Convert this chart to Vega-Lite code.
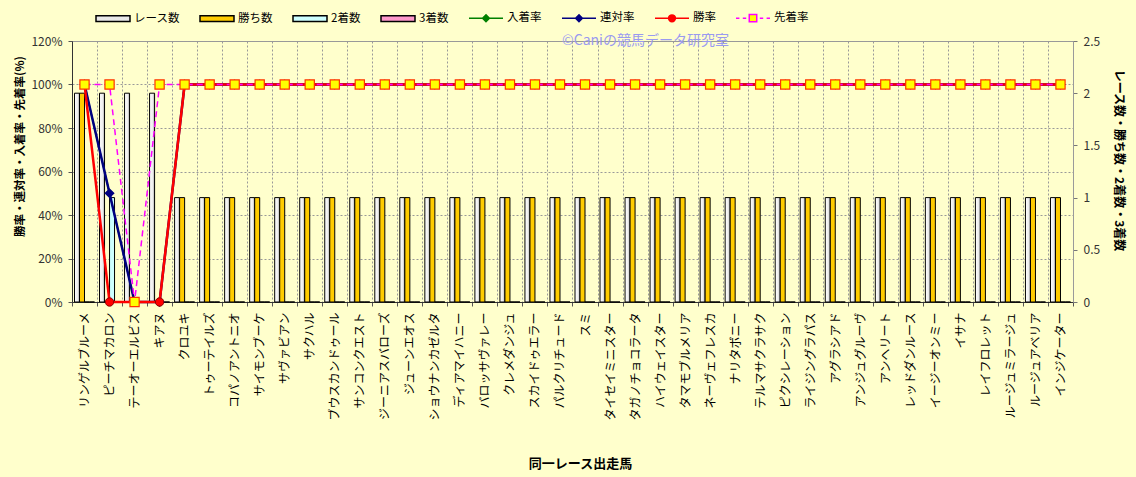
{
  "$schema": "https://vega.github.io/schema/vega-lite/v6.json",
  "width": 1001,
  "height": 261,
  "autosize": {"type": "none"},
  "padding": {"left": 72, "top": 41, "right": 63, "bottom": 175},
  "background": "#FFFFCC",
  "config": {
    "font": "Noto Sans CJK JP",
    "view": {"fill": "#DDEBF8", "stroke": "#9A9A9A", "strokeWidth": 1},
    "legend": {
      "orient": "none", "legendX": 23, "legendY": -41, "direction": "horizontal", "columns": 8,
      "padding": 0, "symbolSize": 1156, "labelFontSize": 11.5, "labelOffset": 3,
      "columnPadding": 17, "labelColor": "#000000", "labelFont": "Noto Sans CJK JP", "symbolStrokeWidth": 1.5, "symbolOpacity": 1
    }
  },
  "title": {
    "text": "©Caniの競馬データ研究室",
    "frame": "group",
    "anchor": "middle",
    "dx": 73,
    "offset": -55,
    "baseline": "middle",
    "fontSize": 14,
    "fontWeight": "normal",
    "color": "#9A9AF0",
    "font": "Noto Sans CJK JP"
  },
  "data": {
    "values": [
      {"horse": "リンゲルブルーメ", "レース数": 2, "勝ち数": 2, "2着数": 0, "3着数": 0, "入着率": 100, "連対率": 100, "勝率": 100, "先着率": 100},
      {"horse": "ピーチマカロン", "レース数": 2, "勝ち数": 0, "2着数": 1, "3着数": 0, "入着率": 50, "連対率": 50, "勝率": 0, "先着率": 100},
      {"horse": "テーオーエルビス", "レース数": 2, "勝ち数": 0, "2着数": 0, "3着数": 0, "入着率": 0, "連対率": 0, "勝率": 0, "先着率": 0},
      {"horse": "キアヌ", "レース数": 2, "勝ち数": 0, "2着数": 0, "3着数": 0, "入着率": 0, "連対率": 0, "勝率": 0, "先着率": 100},
      {"horse": "クロユキ", "レース数": 1, "勝ち数": 1, "2着数": 0, "3着数": 0, "入着率": 100, "連対率": 100, "勝率": 100, "先着率": 100},
      {"horse": "トゥーテイルズ", "レース数": 1, "勝ち数": 1, "2着数": 0, "3着数": 0, "入着率": 100, "連対率": 100, "勝率": 100, "先着率": 100},
      {"horse": "コパノアントニオ", "レース数": 1, "勝ち数": 1, "2着数": 0, "3着数": 0, "入着率": 100, "連対率": 100, "勝率": 100, "先着率": 100},
      {"horse": "サイモンブーケ", "レース数": 1, "勝ち数": 1, "2着数": 0, "3着数": 0, "入着率": 100, "連対率": 100, "勝率": 100, "先着率": 100},
      {"horse": "サヴァビアン", "レース数": 1, "勝ち数": 1, "2着数": 0, "3着数": 0, "入着率": 100, "連対率": 100, "勝率": 100, "先着率": 100},
      {"horse": "サクハル", "レース数": 1, "勝ち数": 1, "2着数": 0, "3着数": 0, "入着率": 100, "連対率": 100, "勝率": 100, "先着率": 100},
      {"horse": "ブウスカンドゥール", "レース数": 1, "勝ち数": 1, "2着数": 0, "3着数": 0, "入着率": 100, "連対率": 100, "勝率": 100, "先着率": 100},
      {"horse": "サンコンクエスト", "レース数": 1, "勝ち数": 1, "2着数": 0, "3着数": 0, "入着率": 100, "連対率": 100, "勝率": 100, "先着率": 100},
      {"horse": "ジーニアスバローズ", "レース数": 1, "勝ち数": 1, "2着数": 0, "3着数": 0, "入着率": 100, "連対率": 100, "勝率": 100, "先着率": 100},
      {"horse": "ジューンエオス", "レース数": 1, "勝ち数": 1, "2着数": 0, "3着数": 0, "入着率": 100, "連対率": 100, "勝率": 100, "先着率": 100},
      {"horse": "ショウナンカゼルタ", "レース数": 1, "勝ち数": 1, "2着数": 0, "3着数": 0, "入着率": 100, "連対率": 100, "勝率": 100, "先着率": 100},
      {"horse": "ディアマイハニー", "レース数": 1, "勝ち数": 1, "2着数": 0, "3着数": 0, "入着率": 100, "連対率": 100, "勝率": 100, "先着率": 100},
      {"horse": "バロッサヴァレー", "レース数": 1, "勝ち数": 1, "2着数": 0, "3着数": 0, "入着率": 100, "連対率": 100, "勝率": 100, "先着率": 100},
      {"horse": "クレメダンジュ", "レース数": 1, "勝ち数": 1, "2着数": 0, "3着数": 0, "入着率": 100, "連対率": 100, "勝率": 100, "先着率": 100},
      {"horse": "スカイドゥエラー", "レース数": 1, "勝ち数": 1, "2着数": 0, "3着数": 0, "入着率": 100, "連対率": 100, "勝率": 100, "先着率": 100},
      {"horse": "パルクリチュード", "レース数": 1, "勝ち数": 1, "2着数": 0, "3着数": 0, "入着率": 100, "連対率": 100, "勝率": 100, "先着率": 100},
      {"horse": "スミ", "レース数": 1, "勝ち数": 1, "2着数": 0, "3着数": 0, "入着率": 100, "連対率": 100, "勝率": 100, "先着率": 100},
      {"horse": "タイセイミニスター", "レース数": 1, "勝ち数": 1, "2着数": 0, "3着数": 0, "入着率": 100, "連対率": 100, "勝率": 100, "先着率": 100},
      {"horse": "タガノチョコラータ", "レース数": 1, "勝ち数": 1, "2着数": 0, "3着数": 0, "入着率": 100, "連対率": 100, "勝率": 100, "先着率": 100},
      {"horse": "ハイウェイスター", "レース数": 1, "勝ち数": 1, "2着数": 0, "3着数": 0, "入着率": 100, "連対率": 100, "勝率": 100, "先着率": 100},
      {"horse": "タマモブルメリア", "レース数": 1, "勝ち数": 1, "2着数": 0, "3着数": 0, "入着率": 100, "連対率": 100, "勝率": 100, "先着率": 100},
      {"horse": "ネーヴェフレスカ", "レース数": 1, "勝ち数": 1, "2着数": 0, "3着数": 0, "入着率": 100, "連対率": 100, "勝率": 100, "先着率": 100},
      {"horse": "ナリタボニー", "レース数": 1, "勝ち数": 1, "2着数": 0, "3着数": 0, "入着率": 100, "連対率": 100, "勝率": 100, "先着率": 100},
      {"horse": "テルマサクラサク", "レース数": 1, "勝ち数": 1, "2着数": 0, "3着数": 0, "入着率": 100, "連対率": 100, "勝率": 100, "先着率": 100},
      {"horse": "ピクシレーション", "レース数": 1, "勝ち数": 1, "2着数": 0, "3着数": 0, "入着率": 100, "連対率": 100, "勝率": 100, "先着率": 100},
      {"horse": "ライジングラパス", "レース数": 1, "勝ち数": 1, "2着数": 0, "3着数": 0, "入着率": 100, "連対率": 100, "勝率": 100, "先着率": 100},
      {"horse": "アグラシアド", "レース数": 1, "勝ち数": 1, "2着数": 0, "3着数": 0, "入着率": 100, "連対率": 100, "勝率": 100, "先着率": 100},
      {"horse": "アンジュグルーヴ", "レース数": 1, "勝ち数": 1, "2着数": 0, "3着数": 0, "入着率": 100, "連対率": 100, "勝率": 100, "先着率": 100},
      {"horse": "アンヘリート", "レース数": 1, "勝ち数": 1, "2着数": 0, "3着数": 0, "入着率": 100, "連対率": 100, "勝率": 100, "先着率": 100},
      {"horse": "レッドダンルース", "レース数": 1, "勝ち数": 1, "2着数": 0, "3着数": 0, "入着率": 100, "連対率": 100, "勝率": 100, "先着率": 100},
      {"horse": "イージーオンミー", "レース数": 1, "勝ち数": 1, "2着数": 0, "3着数": 0, "入着率": 100, "連対率": 100, "勝率": 100, "先着率": 100},
      {"horse": "イサナ", "レース数": 1, "勝ち数": 1, "2着数": 0, "3着数": 0, "入着率": 100, "連対率": 100, "勝率": 100, "先着率": 100},
      {"horse": "レイフロレット", "レース数": 1, "勝ち数": 1, "2着数": 0, "3着数": 0, "入着率": 100, "連対率": 100, "勝率": 100, "先着率": 100},
      {"horse": "ルージュミラージュ", "レース数": 1, "勝ち数": 1, "2着数": 0, "3着数": 0, "入着率": 100, "連対率": 100, "勝率": 100, "先着率": 100},
      {"horse": "ルージュアベリア", "レース数": 1, "勝ち数": 1, "2着数": 0, "3着数": 0, "入着率": 100, "連対率": 100, "勝率": 100, "先着率": 100},
      {"horse": "インジケーター", "レース数": 1, "勝ち数": 1, "2着数": 0, "3着数": 0, "入着率": 100, "連対率": 100, "勝率": 100, "先着率": 100}
    ]
  },
  "layer": [
    {
      "transform": [{"fold": ["レース数", "勝ち数", "2着数", "3着数"], "as": ["series", "value"]}],
      "mark": {"type": "bar", "stroke": "#000000", "strokeWidth": 1},
      "encoding": {
        "x": {
          "field": "horse", "type": "nominal", "sort": null,
          "scale": {"paddingInner": 0, "paddingOuter": 0},
          "axis": {
            "title": "同一レース出走馬", "titleFontSize": 13, "titleFontWeight": "bold", "titleColor": "#000000",
            "titleX": 508, "titleY": 161, "titleBaseline": "middle", "titleAlign": "center",
            "labelAngle": -90, "labelFontSize": 12, "labelColor": "#000000", "labelPadding": 6, "labelOverlap": false,
            "tickBand": "extent", "tickSize": 4, "tickColor": "#555555",
            "domainColor": "#333333",
            "grid": true, "gridColor": "#999999", "gridDash": [2, 2], "gridWidth": 1
          }
        },
        "xOffset": {
          "field": "series", "type": "nominal",
          "scale": {"domain": ["レース数", "勝ち数", "2着数", "3着数"], "paddingInner": 0, "paddingOuter": 0.5}
        },
        "y": {
          "field": "value", "type": "quantitative",
          "scale": {"domain": [0, 2.5], "nice": false},
          "axis": {
            "orient": "right", "values": [0, 0.5, 1, 1.5, 2, 2.5], "format": "~g",
            "title": "レース数・勝ち数・2着数・3着数", "titleAngle": 90, "titleX": 45, "titleY": 119,
            "titleAlign": "center", "titleBaseline": "middle", "titleFontSize": 12, "titleFontWeight": "bold", "titleColor": "#000000",
            "grid": false, "tickSize": 4, "tickColor": "#777777", "labelPadding": 6, "labelFontSize": 12, "labelColor": "#333333",
            "domainColor": "#9A9A9A"
          }
        },
        "color": {
          "condition": {
            "test": "datum.series === 'レース数'",
            "value": {"gradient": "linear", "x1": 0, "x2": 1, "y1": 0, "y2": 0,
              "stops": [{"offset": 0, "color": "#FFFFFF"}, {"offset": 0.6, "color": "#EEEEEE"}, {"offset": 1, "color": "#A8A8A8"}]}
          },
          "field": "series", "type": "nominal",
          "scale": {
            "domain": ["レース数", "勝ち数", "2着数", "3着数", "入着率", "連対率", "勝率", "先着率"],
            "range": ["#E8E8E8", "#FFCC00", "#CCFFFF", "#FF99CC", "#008000", "#000080", "#FF0000", "#FFFF00"]
          },
          "legend": {"title": null}
        }
      }
    },
    {
      "transform": [{"fold": ["入着率", "連対率", "勝率", "先着率"], "as": ["rseries", "rate"]}],
      "encoding": {
        "x": {"field": "horse", "type": "nominal", "sort": null},
        "y": {
          "field": "rate", "type": "quantitative",
          "scale": {"domain": [0, 120], "nice": false},
          "axis": {
            "orient": "left", "values": [0, 20, 40, 60, 80, 100, 120], "labelExpr": "datum.value + '%'",
            "title": "勝率・連対率・入着率・先着率(%)", "titleAngle": -90, "titleX": -52, "titleY": 105,
            "titleAlign": "center", "titleBaseline": "middle", "titleFontSize": 11.5, "titleFontWeight": "bold", "titleColor": "#000000",
            "labelFontSize": 12, "labelColor": "#333333", "tickSize": 4, "tickColor": "#555555", "labelPadding": 6,
            "grid": true, "gridDash": [2, 2], "gridColor": "#999999", "domainColor": "#333333"
          }
        }
      },
      "layer": [
        {
          "transform": [{"filter": "datum.rseries === '入着率'"}],
          "mark": {"type": "line", "color": "#008000", "strokeWidth": 1.5,
            "point": {"shape": "diamond", "size": 30, "filled": true, "fill": "#008000", "stroke": "#008000", "opacity": 1}}
        },
        {
          "transform": [{"filter": "datum.rseries === '連対率'"}],
          "mark": {"type": "line", "color": "#000080", "strokeWidth": 2.5,
            "point": {"shape": "diamond", "size": 55, "filled": true, "fill": "#000080", "stroke": "#000080", "opacity": 1}}
        },
        {
          "transform": [{"filter": "datum.rseries === '勝率'"}],
          "mark": {"type": "line", "color": "#FF0000", "strokeWidth": 2.5,
            "point": {"shape": "circle", "size": 70, "filled": true, "fill": "#FF0000", "stroke": "#900000", "strokeWidth": 1, "opacity": 1}}
        },
        {
          "transform": [{"filter": "datum.rseries === '先着率'"}],
          "mark": {"type": "line", "color": "#FF00FF", "strokeWidth": 1.5, "strokeDash": [6, 4],
            "point": {"shape": "square", "size": 85, "filled": true, "fill": "#FFFF00", "stroke": "#FF3300", "strokeWidth": 1.2, "opacity": 1}}
        }
      ]
    },
    {
      "transform": [
        {"fold": ["レース数", "勝ち数", "2着数", "3着数"], "as": ["series", "value"]},
        {"filter": "datum.value > 99"}
      ],
      "mark": {"type": "point", "filled": true, "size": 1156, "strokeWidth": 1.5, "opacity": 1},
      "encoding": {
        "color": {
          "field": "series", "type": "nominal",
          "scale": {
            "domain": ["レース数", "勝ち数", "2着数", "3着数", "入着率", "連対率", "勝率", "先着率"],
            "range": ["#E8E8E8", "#FFCC00", "#CCFFFF", "#FF99CC", "#008000", "#000080", "#FF0000", "#FFFF00"]
          },
          "legend": {"title": null}
        },
        "stroke": {
          "field": "series", "type": "nominal",
          "scale": {
            "domain": ["レース数", "勝ち数", "2着数", "3着数", "入着率", "連対率", "勝率", "先着率"],
            "range": ["#000000", "#000000", "#000000", "#000000", "#008000", "#000080", "#FF0000", "#FF00FF"]
          },
          "legend": {"title": null}
        },
        "shape": {
          "field": "series", "type": "nominal",
          "scale": {
            "domain": ["レース数", "勝ち数", "2着数", "3着数", "入着率", "連対率", "勝率", "先着率"],
            "range": [
              "M-1,-0.17H1V0.17H-1Z",
              "M-1,-0.17H1V0.17H-1Z",
              "M-1,-0.17H1V0.17H-1Z",
              "M-1,-0.17H1V0.17H-1Z",
              "M-1,0H1M0,-0.2L0.2,0L0,0.2L-0.2,0Z",
              "M-1,0H1M0,-0.2L0.2,0L0,0.2L-0.2,0Z",
              "M-1,0H1M-0.2,0A0.2,0.2,0,1,0,0.2,0A0.2,0.2,0,1,0,-0.2,0Z",
              "M-1,0H-0.8M-0.6,0H-0.4M0.4,0H0.6M0.8,0H1M-0.22,-0.22H0.22V0.22H-0.22Z"
            ]
          },
          "legend": {"title": null}
        }
      }
    }
  ],
  "resolve": {"scale": {"y": "independent"}}
}
